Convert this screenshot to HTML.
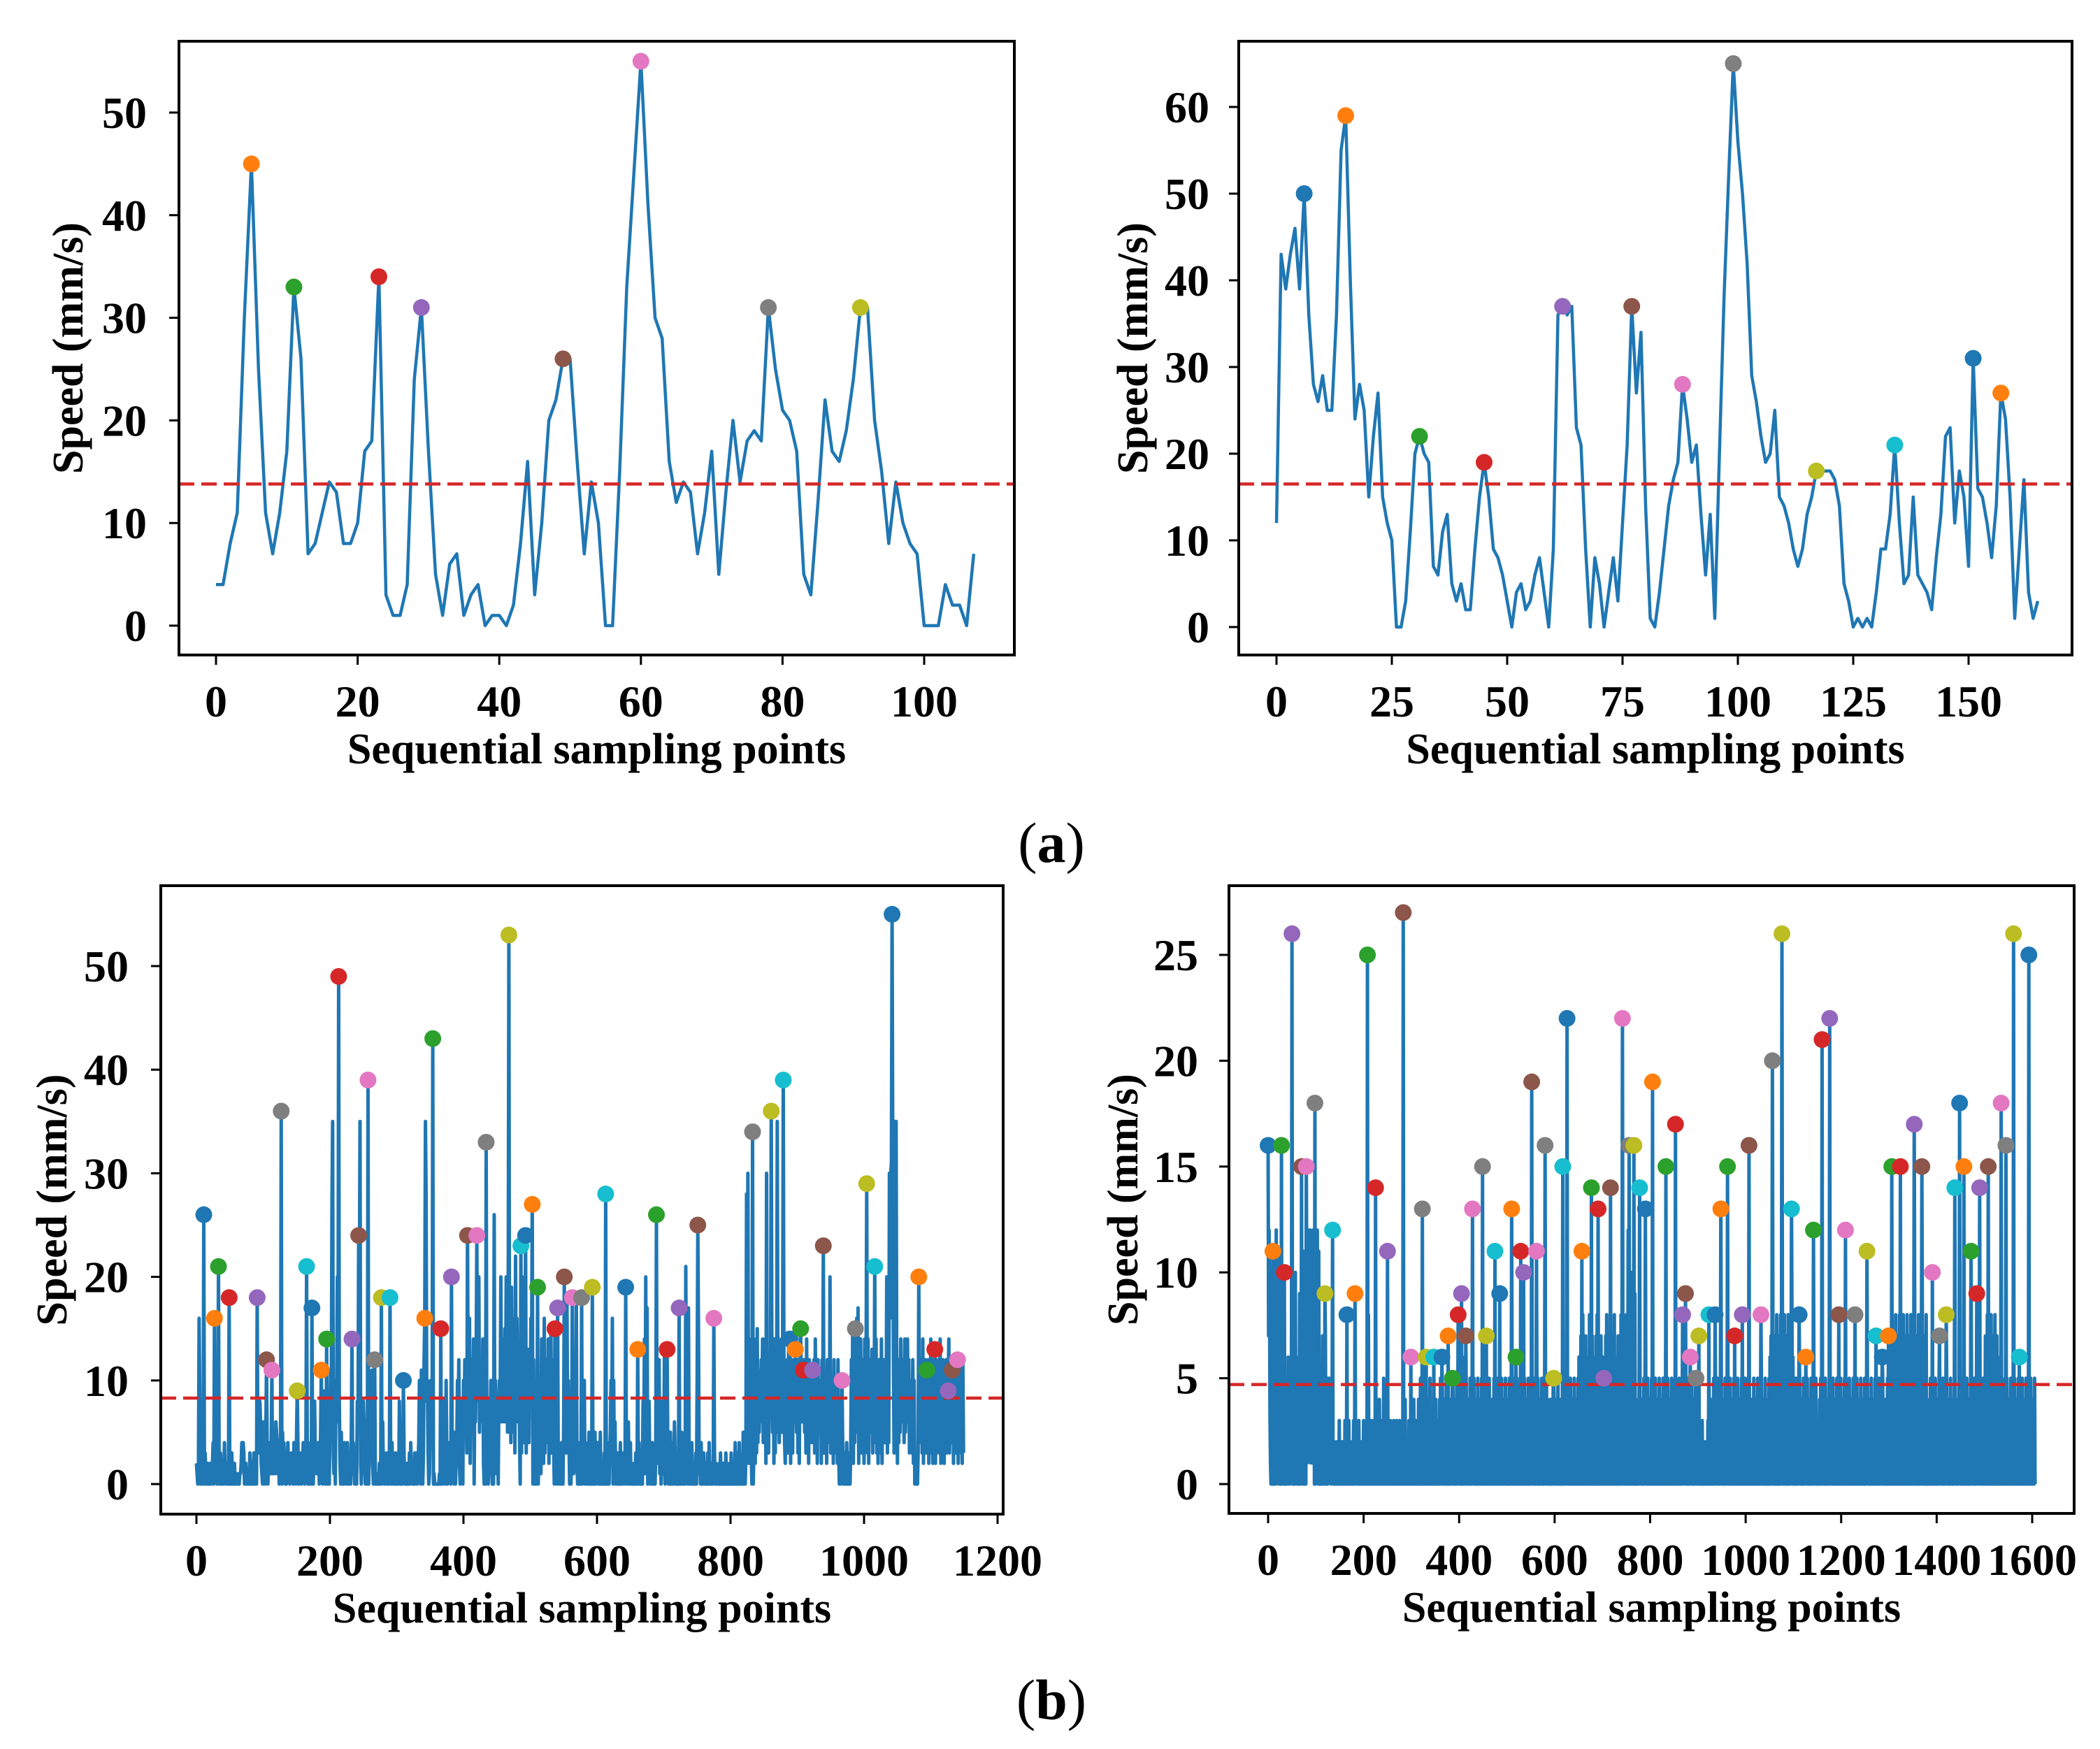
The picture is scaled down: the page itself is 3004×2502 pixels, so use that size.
<!DOCTYPE html>
<html><head><meta charset="utf-8"><style>
html,body{margin:0;padding:0;background:#fff;}
svg{display:block;}
text{font-family:"Liberation Serif",serif;fill:#000;}
</style></head>
<body>
<svg id="fig" xmlns="http://www.w3.org/2000/svg" width="3004" height="2502" viewBox="0 0 3004 2502">
<rect width="3004" height="2502" fill="#fff"/>
<text x="1504" y="1233" text-anchor="middle" font-size="82">(<tspan font-weight="bold">a</tspan>)</text>
<text x="1504" y="2459" text-anchor="middle" font-size="82">(<tspan font-weight="bold">b</tspan>)</text>
</svg>
<script>
// ---------- data ----------
const aLeftValues = [4,4,8,11,30,45,25,11,7,11,17,33,26,7,8,11,14,13,8,8,10,17,18,34,3,1,1,4,24,31,17,5,1,6,7,1,3,4,0,1,1,0,2,8,16,3,10,20,22,26,26,16,7,14,10,0,0,15,33,44,55,41,30,28,16,12,14,13,7,11,17,5,13,20,14,18,19,18,31,25,21,20,17,5,3,12,22,17,16,19,24,31,31,20,15,8,14,10,8,7,0,0,0,4,2,2,0,7];
const aLeftPeakIdx = [5,11,23,29,49,60,78,91];
const aLeftThreshold = 13.8;

const aRightValues = [12,43,39,43,46,39,50,36,28,26,29,25,25,36,55,59,40,24,28,25,15,22,27,15,12,10,0,0,3,11,20,22,20,19,7,6,11,13,5,3,5,2,2,9,15,19,15,9,8,6,3,0,4,5,2,3,6,8,4,0,9,36,37,36,37,23,21,9,0,8,5,0,4,8,3,12,21,37,27,34,14,1,0,4,9,14,17,19,28,24,19,21,13,6,13,1,20,38,52,65,56,50,42,29,26,22,19,20,25,15,14,12,9,7,9,13,15,18,18,18,18,17,14,5,3,0,1,0,1,0,4,9,9,13,21,12,5,6,15,6,5,4,2,8,13,22,23,12,18,15,7,31,16,15,12,8,14,27,24,15,1,9,17,4,1,3];
const aRightPeakIdx = [6,15,31,45,62,77,88,99,117,134,151,157];
const aRightThreshold = 16.5;

const bLeftTrace = `
2101g80102 1003101201 0201240131 1020103102 0141022013
0103010201 1010011243 4301201010 3102103201 0134686210
6240513021 4140122316 5413034205 1420302413 0123104130
5240131022 4103423010 1402203834 1324015240 9380150120
6b8rz3150a 8k64820510 2041304201 3050142013 0858hz2041
8630410203 5a3b201000 0010201806 1302130102 0104021030
2030810201 0301020103 0412010302 3024a50b40 3c6zs8a301
5a84201000 0000102030 4860a30124 2015130502 4a6c203580
a5c6830a5g 2a5c8e0a6c 4a8k5c6a7e 2040131028 6a4010q3a1
3608a9k6ca e6f8kb5ia6 e4j8g5c3m6 ga6c40e3k8 4c9f3a7d4b
8gd50c3050 2504a31e6c 2g3a5c4e2a 5f38c40a2c 0513030410
5c4e3i5a40 2030413a3i 2040301503 1a04023050 0102040502
1403050201 0302010403 5a4g0a1602 0301040302 3020302601
4020102030 1b04020308 2e1k3h0582 0304102030 2a3c150281
3d05824030 5020406301 0203040503 020l4a0h20 3040102030
a2f1304020 3010203040 1020103020 0102030102 0103020102
0302010402 0304020105 0403s5u2e5 a30503a2e3 f4b5a6c8e4
a6e2u5c3a8 d3a5c2e3a5 z7c4a8e5c3 a42a5c3e8d 2ac3a6a4b5
c3a2d3a6a3 c5a3e3a2c4 a64a5c3e6a 2c5a6a2c4e 3a3a2c6a4k
3a5a2c3a5a 2c30503040 3020403030 3c5f2c4d5g 8h2a4e3a5c
2e6as3e2c5 a8d3c4a6e3 a2c5a3e2a5 c4a6k3c4ug uv8wc3zzza
2c4a5e6a8c 4e5a6e8c3a 8a3c2a0102 0304c5a3e2 a4c3a8c2a4
e3a2c4a2c3 a4c3e2a5c3 2a4c3a2e3c 4a3c2a5c3a e2a3c4a2c3`;
const bLeftPeakIdx = [11,27,33,49,91,105,113,127,151,165,173,187,195,213,233,243,257,267,277,290,310,342,354,366,382,406,420,434,468,486,493,503,511,537,541,551,563,577,593,613,643,661,689,705,723,751,775,833,861,879,889,897,905,909,923,939,967,987,1004,1016,1042,1082,1094,1106,1126,1132,1140];
const bLeftPeakVal = [26,16,21,18,18,12,11,36,9,21,17,11,14,49,14,24,39,12,18,18,10,16,43,15,20,24,24,33,53,23,24,27,19,15,17,20,18,18,19,28,19,13,26,13,17,25,16,34,36,39,14,13,15,11,11,23,10,15,29,21,55,20,11,13,9,11,12];
const bLeftThreshold = 8.3;

const bRightTrace = `
a7c9310a20 1030a02c1a 3021b02040 1320301401 2063130217
0403050a21 3030609201 30a2b06020 0a1bc2a9c1 b3a1c4a090
3a5c20b040 1020730402 7030504354 4202431020 0012012003
0102100201 0302010203 0102010203 0103021020 3010200210
3020102010 8030103020 1302010402 0304020103 2050302010
3020103021 0203010203 0102030102 0102030402 0102030102
0302040103 0201040205 0103040203 0102040305 0203010402
0401030204 0503040204 0305020403 0104020503 0402050301
0503040602 0503040304 0205040302 0504030205 0403020504
0305040203 0405020304 0305020403 0502040305 0203040502
0304050203 0405020304 0502030405 0304020504 0302050403
0203040502 0304050203 0405020304 0305040203 0402030504
0302040503 0204030502 0403050204 0305020403 0504020305
0605070408 0506070405 0608040507 0405060708 0405060705
0604050708 0405060407 0506080405 0607040508 0604050706
8060c07090 a06080b090 0302040503 0204030502 0403050204
0305020403 0504020305 0302040503 0204030502 0403050204
0305020403 0504020305 0302040503 0204030502 0403050204
0100201003 0102010201 0302010204 0305020403 0504020305
0302040503 0204030502 0403050204 0305020403 0504020305
0302040503 0204030502 0403050204 0305020403 0504020305
0607050806 0705080607 0508060705 0806070508 0607050806
0403050204 0305020403 0504020305 0302040503 0204030502
0302040503 0204030502 0403050204 0305020403 0504020305
0302040503 0204030502 0403050204 0305020403 0504020305
0403050204 0305020403 0504020305 0302040503 0204030502
5070608050 7060805070 6080507060 8050706080 5070608050
7060805070 6080507060 8050706080 0302040503 0204030502
0403050204 0305020403 0504020305 0302040503 0204030502
0403050204 0305020403 0504020305 0302040503 0204030502
5070608050 7060805070 6080507060 0302040503 0204030502
0403050204 0305020403 0504020305 0302040503 0204030502
0403050`;
const bRightPeakIdx = [0,10,28,34,50,70,80,98,119,135,165,182,208,225,250,283,299,323,331,347,364,377,386,398,405,414,428,449,457,475,485,510,519,529,535,552,562,580,598,617,626,657,677,691,703,717,742,756,766,778,790,805,833,853,868,874,884,896,902,923,936,948,962,977,993,1007,1032,1056,1076,1096,1112,1126,1142,1160,1176,1195,1209,1229,1254,1273,1286,1299,1306,1324,1353,1369,1391,1406,1420,1438,1448,1457,1472,1484,1490,1508,1535,1545,1561,1573,1593];
const bRightPeakVal = [16,11,16,10,26,15,15,18,9,12,8,9,25,14,11,27,6,13,6,6,6,7,5,8,9,7,13,15,7,11,9,13,6,11,10,19,11,16,5,15,22,11,14,13,5,14,22,16,16,14,13,19,15,17,8,9,6,5,7,8,8,13,15,7,8,16,8,20,26,13,8,6,12,21,22,8,12,8,11,7,6,7,15,15,17,15,10,7,8,14,18,15,11,9,14,15,18,16,26,6,25];
const bRightThreshold = 4.7;

const aLeftXTicks = [0,20,40,60,80,100];
const aLeftYTicks = [0,10,20,30,40,50];
const aRightXTicks = [0,25,50,75,100,125,150];
const aRightYTicks = [0,10,20,30,40,50,60];
const bLeftXTicks = [0,200,400,600,800,1000,1200];
const bLeftYTicks = [0,10,20,30,40,50];
const bRightXTicks = [0,200,400,600,800,1000,1200,1400,1600];
const bRightYTicks = [0,5,10,15,20,25];

// ---------- drawing ----------
const NS = "http://www.w3.org/2000/svg";
const svg = document.getElementById('fig');
const TAB10 = ['#1f77b4','#ff7f0e','#2ca02c','#d62728','#9467bd','#8c564b','#e377c2','#7f7f7f','#bcbd22','#17becf'];

function decode(trace){ return Array.from(trace.replace(/\s/g,''), c => parseInt(c,36)); }
function mk(tag, attrs, parent){
  const el = document.createElementNS(NS, tag);
  for (const k in attrs) el.setAttribute(k, attrs[k]);
  (parent||svg).appendChild(el);
  return el;
}

function panel(p){
  const g = mk('g', {});
  
  
  const sx = v => p.x0 + (v - p.dx0) * (p.x1 - p.x0) / (p.dx1 - p.dx0);
  const sy = v => p.y0 + (v - p.dy0) * (p.y1 - p.y0) / (p.dy1 - p.dy0);
  const [L,T,R,B] = p.box;

  let d = '';
  p.values.forEach((v,i) => { d += (i ? 'L' : 'M') + sx(i).toFixed(2) + ' ' + sy(v).toFixed(2); });
  const line = mk('path', {d:d, fill:'none', stroke:'#1f77b4', 'stroke-width':p.lw, 'stroke-linejoin':'round'}, g);
  
  

  const th = mk('line', {x1:L, x2:R, y1:sy(p.threshold), y2:sy(p.threshold), stroke:'#d62728', 'stroke-width':4.5, 'stroke-dasharray':'22 10'}, g);
  
  

  p.peakIdx.forEach((ix,k) => {
    const c = mk('circle', {cx:sx(ix), cy:sy(p.values[ix]), r:12, fill:TAB10[(k + p.colorOffset) % 10]}, g);
    
    
  });

  const fr = mk('rect', {x:L, y:T, width:R-L, height:B-T, fill:'none', stroke:'#000', 'stroke-width':4}, g);
  
  

  p.xTicks.forEach(t => {
    const x = sx(t);
    const tk = mk('line', {x1:x, x2:x, y1:B, y2:B+14, stroke:'#000', 'stroke-width':3}, g);
    
    
    const lb = mk('text', {x:x, y:B+88, 'text-anchor':'middle', 'font-size':64, 'font-weight':'bold'}, g);
    
    
    lb.textContent = t;
  });
  p.yTicks.forEach(t => {
    const y = sy(t);
    const tk = mk('line', {x1:L-14, x2:L, y1:y, y2:y, stroke:'#000', 'stroke-width':3}, g);
    
    
    const lb = mk('text', {x:L-p.yLabGap, y:y+22, 'text-anchor':'end', 'font-size':64, 'font-weight':'bold'}, g);
    
    
    lb.textContent = t;
  });
  const xt = mk('text', {x:(L+R)/2, y:B+155, 'text-anchor':'middle', 'font-size':62, 'font-weight':'bold'}, g);
  
  
  xt.textContent = 'Sequential sampling points';
  const cy = (T+B)/2;
  const yt = mk('text', {x:p.yTitleX, y:cy, 'text-anchor':'middle', 'font-size':62, 'font-weight':'bold', transform:`rotate(-90 ${p.yTitleX} ${cy})`}, g);
  
  
  yt.textContent = 'Speed (mm/s)';
}

function withPeaks(values, idx, val){
  const out = values.slice();
  idx.forEach((ix,k) => { out[ix] = val[k]; });
  return out;
}

panel({name:'chart-a-left', values:aLeftValues, peakIdx:aLeftPeakIdx, threshold:aLeftThreshold, colorOffset:1,
  box:[256,59,1451,937], x0:309, x1:1322, dx0:0, dx1:100, y0:895, y1:161, dy0:0, dy1:50,
  xTicks:aLeftXTicks, yTicks:aLeftYTicks, lw:4.5, yLabGap:46, yTitleX:118});
panel({name:'chart-a-right', values:aRightValues, peakIdx:aRightPeakIdx, threshold:aRightThreshold, colorOffset:0,
  box:[1772,59,2964,937], x0:1826, x1:2816, dx0:0, dx1:150, y0:897, y1:153, dy0:0, dy1:60,
  xTicks:aRightXTicks, yTicks:aRightYTicks, lw:4.5, yLabGap:42, yTitleX:1641});
panel({name:'chart-b-left', values:withPeaks(decode(bLeftTrace), bLeftPeakIdx, bLeftPeakVal), peakIdx:bLeftPeakIdx, threshold:bLeftThreshold, colorOffset:0,
  box:[230,1267,1435,2166], x0:281, x1:1427, dx0:0, dx1:1200, y0:2123, y1:1382, dy0:0, dy1:50,
  xTicks:bLeftXTicks, yTicks:bLeftYTicks, lw:5, yLabGap:46, yTitleX:95});
panel({name:'chart-b-right', values:withPeaks(decode(bRightTrace), bRightPeakIdx, bRightPeakVal), peakIdx:bRightPeakIdx, threshold:bRightThreshold, colorOffset:0,
  box:[1758,1267,2967,2165], x0:1814, x1:2907, dx0:0, dx1:1600, y0:2123, y1:1366, dy0:0, dy1:25,
  xTicks:bRightXTicks, yTicks:bRightYTicks, lw:5, yLabGap:44, yTitleX:1627});
</script>
</body></html>
